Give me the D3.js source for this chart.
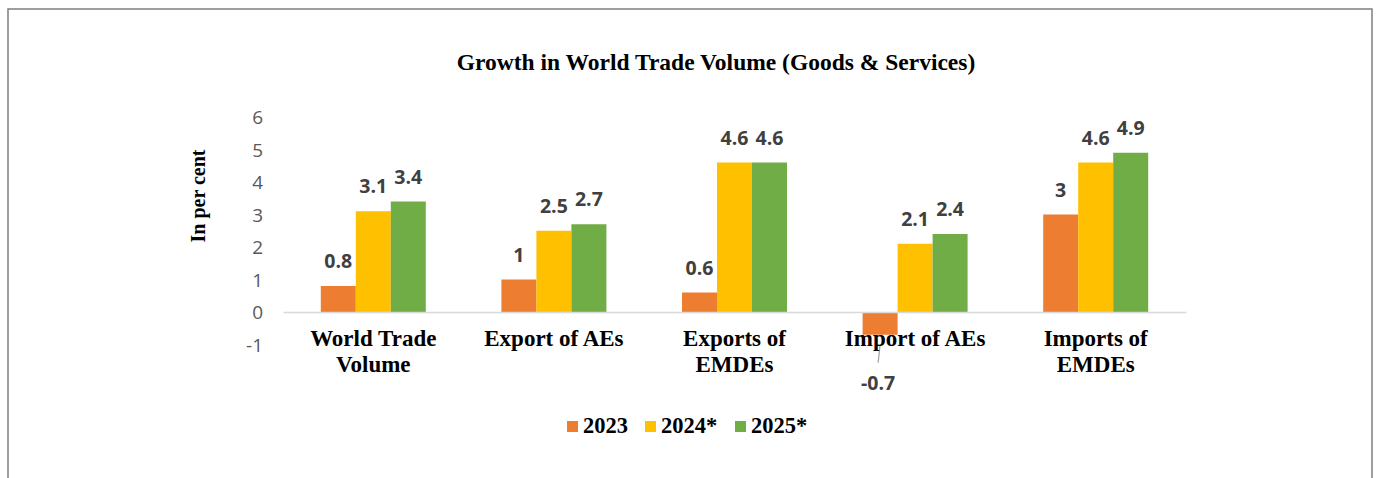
<!DOCTYPE html>
<html><head><meta charset="utf-8">
<script src="https://cdn.jsdelivr.net/npm/d3@7"></script>
<style>body{margin:0;background:#fff}svg{display:block}</style>
</head><body><svg id="c" width="1379" height="478"></svg>
<script>
const categories = ["World Trade\nVolume", "Export of AEs", "Exports of\nEMDEs", "Import of AEs", "Imports of\nEMDEs"];
const seriesNames = ["2023", "2024*", "2025*"];
const values2023 = [0.8, 1, 0.6, -0.7, 3];
const values2024 = [3.1, 2.5, 4.6, 2.1, 4.6];
const values2025 = [3.4, 2.7, 4.6, 2.4, 4.9];
const yTicks = [-1, 0, 1, 2, 3, 4, 5, 6];
const colors = ["#ED7D31", "#FFC000", "#70AD47"];
const seriesValues = [values2023, values2024, values2025];

const svg = d3.select("#c");
// frame
svg.append("path").attr("d","M8,480 V9 H1372 V480").attr("fill","none").attr("stroke","#7f7f7f").attr("stroke-width",1.5);

svg.append("text").attr("x",716).attr("y",70).attr("text-anchor","middle")
  .attr("font-family","Liberation Serif").attr("font-weight","bold").attr("font-size",23.5)
  .text("Growth in World Trade Volume (Goods & Services)");

const y = d3.scaleLinear().domain([-1,6]).range([344.5,117]);
const x0 = d3.scaleBand().domain(categories).range([283,1186]).padding(0);
const x1 = d3.scaleBand().domain(seriesNames).range([0,105]).padding(0);
const groupOffset = (x0.bandwidth()-105)/2;

// y axis labels
const yAxis = d3.axisLeft(y).tickValues(yTicks).tickSize(0).tickPadding(0).tickFormat(d => String(d));
const gy = svg.append("g").attr("transform","translate(263,0)").call(yAxis);
gy.select(".domain").remove();
gy.selectAll("text").attr("font-family","Open Sans").attr("font-size",19).attr("fill","#595959").attr("dy","0.35em");

svg.append("text").attr("transform","translate(205,196) rotate(-90)").attr("text-anchor","middle")
  .attr("font-family","Liberation Serif").attr("font-weight","bold").attr("font-size",20)
  .text("In per cent");

// bars
seriesValues.forEach((vals,si)=>{
  const g = svg.append("g");
  g.selectAll("rect").data(vals).join("rect")
    .attr("x",(d,i)=>x0(categories[i])+groupOffset+x1(seriesNames[si]))
    .attr("width",x1.bandwidth())
    .attr("y",d=>y(Math.max(0,d)))
    .attr("height",d=>Math.abs(y(d)-y(0)))
    .attr("fill",colors[si]);
});

// zero axis line
const xAxis = d3.axisBottom(x0).tickSize(0).tickFormat("");
const gx = svg.append("g").attr("transform",`translate(0,${y(0)})`).call(xAxis);
gx.select(".domain").attr("stroke","#d9d9d9").attr("stroke-width",1.5);

// data labels
seriesValues.forEach((vals,si)=>{
  vals.forEach((d,i)=>{
    const cx = x0(categories[i])+groupOffset+x1(seriesNames[si])+x1.bandwidth()/2;
    if(d>=0){
      svg.append("text").attr("x",cx).attr("y",y(d)-18).attr("text-anchor","middle")
        .attr("font-family","Open Sans").attr("font-weight","bold").attr("font-size",19.5).attr("fill","#404040")
        .text(String(d));
    } else {
      svg.append("line").attr("x1",cx).attr("y1",y(d)+10).attr("x2",cx-2).attr("y2",y(d)+28)
        .attr("stroke","#a6a6a6").attr("stroke-width",1.3);
      svg.append("text").attr("x",cx-2).attr("y",y(d)+55).attr("text-anchor","middle")
        .attr("font-family","Open Sans").attr("font-weight","bold").attr("font-size",19.5).attr("fill","#404040")
        .text(String(d));
    }
  });
});

// category labels
categories.forEach(c=>{
  const lines = c.split("\n");
  const t = svg.append("text").attr("x",x0(c)+x0.bandwidth()/2).attr("y",346).attr("text-anchor","middle")
    .attr("font-family","Liberation Serif").attr("font-weight","bold").attr("font-size",23).attr("fill","#000");
  lines.forEach((l,k)=>t.append("tspan").attr("x",x0(c)+x0.bandwidth()/2).attr("dy",k?26:0).text(l));
});

// legend
const legX = [567, 645, 735];
seriesNames.forEach((s,i)=>{
  svg.append("rect").attr("x",legX[i]).attr("y",421).attr("width",11).attr("height",11).attr("fill",colors[i]);
  svg.append("text").attr("x",legX[i]+16).attr("y",433).attr("font-family","Liberation Serif")
    .attr("font-weight","bold").attr("font-size",22.5).text(s);
});
</script></body></html>
